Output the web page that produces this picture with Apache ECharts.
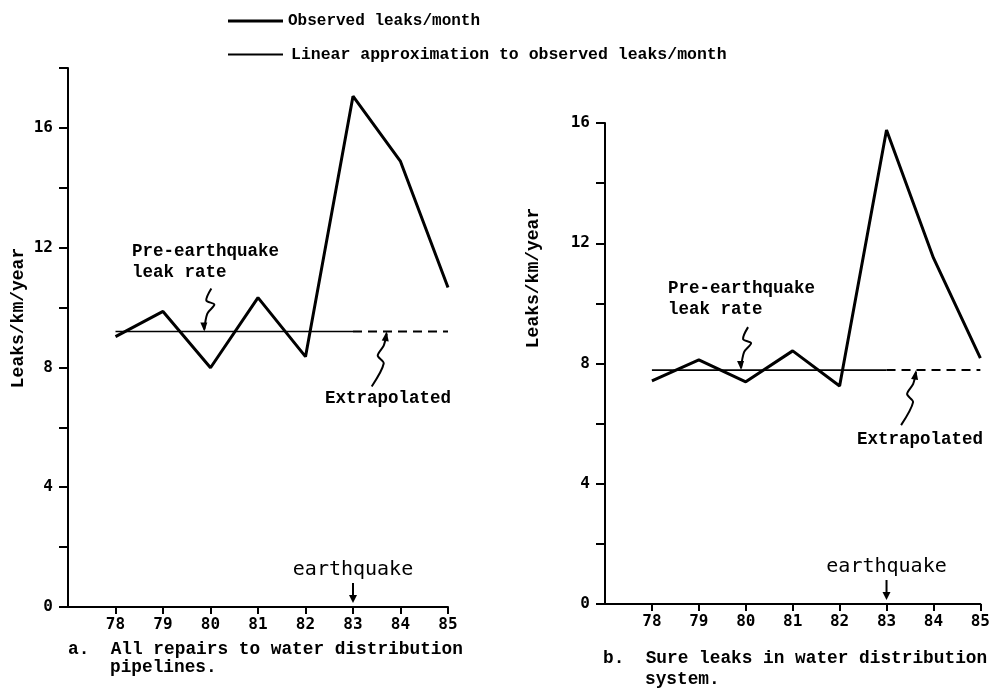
<!DOCTYPE html>
<html>
<head>
<meta charset="utf-8">
<script src="https://cdn.jsdelivr.net/npm/echarts@6/dist/echarts.min.js"></script>
<style>
  html, body { margin: 0; padding: 0; background: #fff; }
  #chartmain { width: 993px; height: 695px; }
</style>
</head>
<body>
<div id="chartmain"></div>
<script>
// 数据
var years = [78, 79, 80, 81, 82, 83, 84, 85];
var allRepairs = [9.03, 9.87, 7.99, 10.33, 8.36, 17.06, 14.88, 10.67];  // a. 全部维修
var sureLeaks = [7.42, 8.12, 7.39, 8.42, 7.25, 15.77, 11.51, 8.18];     // b. 确认漏水
var preRateA = 9.2;
var preRateB = 7.78;
var fitYears = [78, 83];        // 实线段
var extraYears = [83, 85];      // 虚线外推段
var quakeYear = 83;
var yTicksA = [0, 2, 4, 6, 8, 10, 12, 14, 16, 18];
var yTicksB = [0, 2, 4, 6, 8, 10, 12, 14, 16];
var yLabels = [0, 4, 8, 12, 16];

var OBS = 'Observed leaks/month';
var LIN = 'Linear approximation to observed leaks/month';

var mono = '"Liberation Mono", "DejaVu Sans Mono", monospace';
var gothic = '"DejaVu Sans Mono", monospace';

function pairs(xs, ys) {
    return xs.map(function (x, i) { return [x, ys[i]]; });
}
function flat(xs, v) {
    return xs.map(function (x) { return [x, v]; });
}

function xAxisCfg(idx) {
    return {
        type: 'value', gridIndex: idx, min: 77, max: 85, interval: 1,
        axisLine: { lineStyle: { color: '#000', width: 2 } },
        axisTick: { show: true, length: 7, lineStyle: { color: '#000', width: 2 }, customValues: years },
        axisLabel: { color: '#000', fontFamily: gothic, fontWeight: 'bold', fontSize: 16, margin: 10, customValues: years },
        splitLine: { show: false }
    };
}
function yAxisCfg(idx, max, ticks) {
    return {
        type: 'value', gridIndex: idx, min: 0, max: max, interval: 2,
        axisLine: { show: true, lineStyle: { color: '#000', width: 2 } },
        axisTick: { show: true, length: 9, lineStyle: { color: '#000', width: 2 }, customValues: ticks },
        axisLabel: { color: '#000', fontFamily: gothic, fontWeight: 'bold', fontSize: 16, margin: 15, customValues: yLabels },
        splitLine: { show: false }
    };
}
function lineSeries(name, idx, data, width, dashed) {
    return {
        name: name, type: 'line', xAxisIndex: idx, yAxisIndex: idx,
        data: data, symbol: 'none', silent: true, animation: false,
        lineStyle: { color: '#000', width: width, type: dashed ? [9, 6] : 'solid' },
        itemStyle: { color: '#000' }
    };
}

var myChart = echarts.init(document.getElementById('chartmain'));

var option = {
    backgroundColor: '#fff',
    animation: false,
    color: ['#000'],
    legend: [
        { data: [OBS], left: 223, top: 8, icon: 'rect', itemWidth: 55, itemHeight: 3, selectedMode: false,
          textStyle: { color: '#000', fontFamily: mono, fontWeight: 'bold', fontSize: 16 } },
        { data: [LIN], left: 223, top: 41, icon: 'rect', itemWidth: 55, itemHeight: 2, selectedMode: false,
          textStyle: { color: '#000', fontFamily: mono, fontWeight: 'bold', fontSize: 16.5, padding: [0, 0, 0, 3] } }
    ],
    grid: [
        { left: 68, top: 68, width: 380, height: 539 },
        { left: 605, top: 123, width: 378, height: 481 }
    ],
    xAxis: [xAxisCfg(0), xAxisCfg(1)],
    yAxis: [yAxisCfg(0, 18, yTicksA), yAxisCfg(1, 16, yTicksB)],
    series: [
        lineSeries(OBS, 0, pairs(years, allRepairs), 3, false),
        lineSeries(LIN, 0, flat(fitYears, preRateA), 1.6, false),
        lineSeries('extrapA', 0, flat(extraYears, preRateA), 2, true),
        lineSeries(OBS, 1, pairs(years, sureLeaks), 3, false),
        lineSeries(LIN, 1, flat(fitYears, preRateB), 1.6, false),
        lineSeries('extrapB', 1, flat(extraYears, preRateB), 2, true)
    ]
};
myChart.setOption(option);

// 注释：闪电形箭头、文字
function px(grid, x, y) {
    return myChart.convertToPixel({ gridIndex: grid }, [x, y]);
}
function textEl(txt, x, y, font, align, rot, lh) {
    return {
        type: 'text', x: x, y: y, rotation: rot || 0, silent: true,
        style: { text: txt, font: font, fill: '#000', textAlign: align || 'left', textVerticalAlign: 'middle', lineHeight: lh || 21 }
    };
}
// 向下的闪电箭头（指向水平线）
function boltDown(tip) {
    var o = [[7, -43], [2, -31], [10, -27], [3, -18], [0, -2]];
    var pts = o.map(function (d) { return [tip[0] + d[0], tip[1] + d[1]]; });
    return [
        { type: 'polyline', silent: true, shape: { points: pts, smooth: 0.3 }, style: { stroke: '#000', lineWidth: 2, fill: null } },
        { type: 'polygon', silent: true, shape: { points: [[tip[0], tip[1]], [tip[0] - 4, tip[1] - 9], [tip[0] + 3, tip[1] - 9]] }, style: { fill: '#000' } }
    ];
}
// 向上的闪电箭头（指向虚线）
function boltUp(tip) {
    var o = [[-15, 55], [-3, 32], [-9, 24], [-3, 14], [0, 2]];
    var pts = o.map(function (d) { return [tip[0] + d[0], tip[1] + d[1]]; });
    return [
        { type: 'polyline', silent: true, shape: { points: pts, smooth: 0.3 }, style: { stroke: '#000', lineWidth: 2, fill: null } },
        { type: 'polygon', silent: true, shape: { points: [[tip[0], tip[1]], [tip[0] - 5, tip[1] + 9], [tip[0] + 2, tip[1] + 10]] }, style: { fill: '#000' } }
    ];
}
function quakeArrow(grid) {
    var p = px(grid, quakeYear, 0);
    return [
        { type: 'line', silent: true, shape: { x1: p[0], y1: p[1] - 24, x2: p[0], y2: p[1] - 10 }, style: { stroke: '#000', lineWidth: 2 } },
        { type: 'polygon', silent: true, shape: { points: [[p[0], p[1] - 4], [p[0] - 4, p[1] - 12], [p[0] + 4, p[1] - 12]] }, style: { fill: '#000' } },
        textEl('earthquake', p[0], p[1] - 37, '500 20px ' + gothic, 'center')
    ];
}

var annB = 'bold 17.5px ' + mono;
var capB = 'bold 17.8px ' + mono;
var axB = 'bold 18px ' + mono;
var els = [];
// y轴标题
els.push(textEl('Leaks/km/year', 18, 318, axB, 'center', Math.PI / 2));
els.push(textEl('Leaks/km/year', 533, 278, axB, 'center', Math.PI / 2));
// a 图
els.push(textEl('Pre-earthquake\nleak rate', 132, 262, annB));
els = els.concat(boltDown(px(0, 79.87, preRateA)));
els = els.concat(boltUp(px(0, 83.71, preRateA)));
els.push(textEl('Extrapolated', 325, 399, annB));
els = els.concat(quakeArrow(0));
els.push(textEl('a.  All repairs to water distribution', 68, 650, capB));
els.push(textEl('pipelines.', 110, 668, capB));
// b 图
els.push(textEl('Pre-earthquake\nleak rate', 668, 299, annB));
els = els.concat(boltDown(px(1, 79.9, preRateB)));
els = els.concat(boltUp(px(1, 83.63, preRateB)));
els.push(textEl('Extrapolated', 857, 440, annB));
els = els.concat(quakeArrow(1));
els.push(textEl('b.  Sure leaks in water distribution', 603, 659, capB));
els.push(textEl('system.', 645, 680, capB));

myChart.setOption({ graphic: els });
</script>
</body>
</html>
